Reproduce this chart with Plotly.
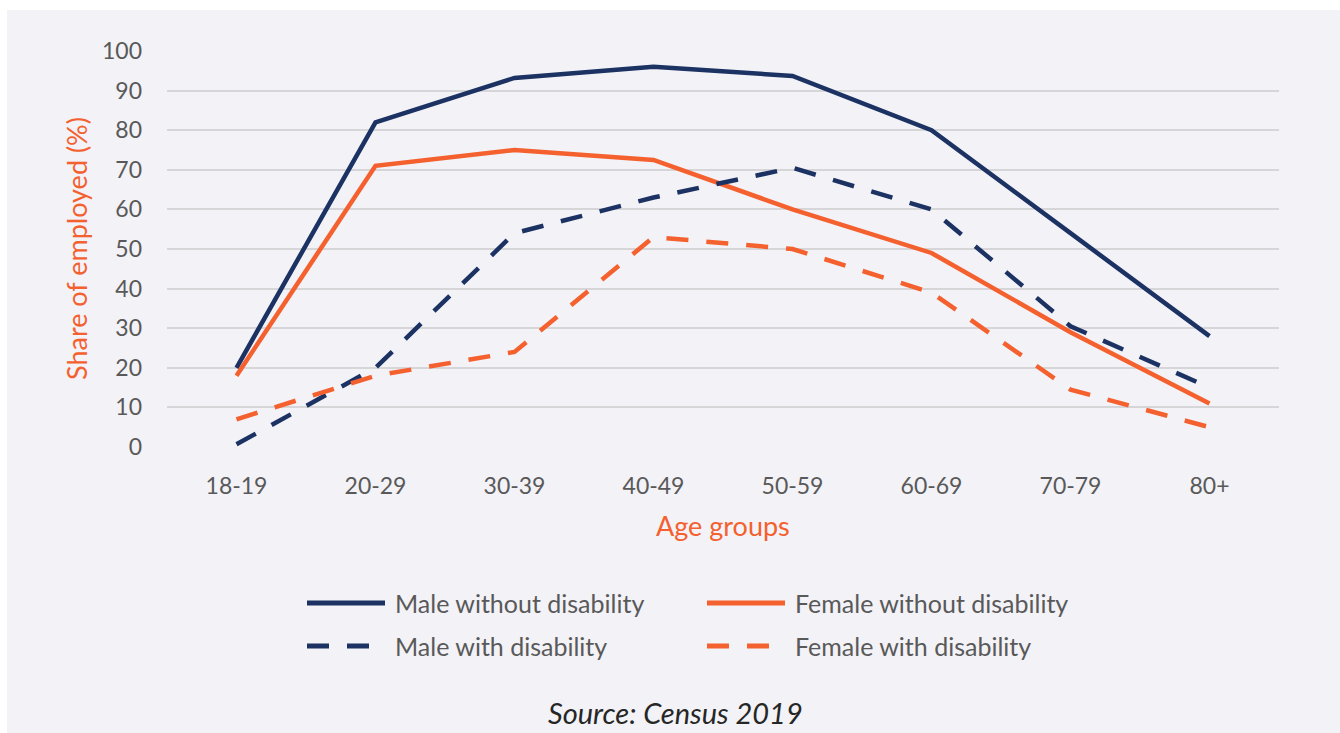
import plotly.graph_objects as go

# Employment share by age group, census 2019
age_groups = ["18-19", "20-29", "30-39", "40-49", "50-59", "60-69", "70-79", "80+"]
male_without = [20, 82, 93.2, 96, 93.7, 80, 54, 28]
female_without = [18, 71, 75, 72.5, 60, 49, 29, 11]
male_with = [0.7, 20, 54, 63, 70.5, 60, 30.5, 15]
female_with = [7, 18, 24, 53, 50, 39, 14.5, 5]
y_ticks = [0, 10, 20, 30, 40, 50, 60, 70, 80, 90, 100]

NAVY = "#1b3263"
ORANGE = "#f4602e"
BG = "#f2f2f7"
TEXT = "#595959"
FONT = "Lato, 'Open Sans', sans-serif"
DASH = "22px,18px"
LW = 4.5

series = [
    ("Male without disability", male_without, NAVY, "solid"),
    ("Female without disability", female_without, ORANGE, "solid"),
    ("Male with disability", male_with, NAVY, DASH),
    ("Female with disability", female_with, ORANGE, DASH),
]

W, H = 1340, 733
L, R, T, B = 167, 61, 51, 286
PW, PH = W - L - R, H - T - B


def px_x(x):
    return (x - L) / PW


def px_y(y):
    return (H - B - y) / PH


fig = go.Figure()
for name, vals, color, dash in series:
    fig.add_trace(go.Scatter(
        x=age_groups, y=vals, mode="lines", name=name,
        line=dict(color=color, width=LW, dash=dash),
        showlegend=False, hoverinfo="x+y+name",
    ))

shapes = [
    # white frame strips along the left and top edges
    dict(type="rect", xref="paper", yref="paper", x0=px_x(-5), x1=px_x(7),
         y0=px_y(H + 5), y1=px_y(-5), fillcolor="white", line_width=0, layer="below"),
    dict(type="rect", xref="paper", yref="paper", x0=px_x(-5), x1=px_x(W + 5),
         y0=px_y(10), y1=px_y(-5), fillcolor="white", line_width=0, layer="below"),
]

annotations = [
    dict(text="Age groups", xref="paper", yref="paper", x=0.5, y=px_y(525),
         showarrow=False, font=dict(family=FONT, size=27, color=ORANGE),
         xanchor="center", yanchor="middle"),
    dict(text="Share of employed (%)", xref="paper", yref="paper", x=px_x(76),
         y=px_y(249), textangle=-90, showarrow=False,
         font=dict(family=FONT, size=27, color=ORANGE),
         xanchor="center", yanchor="middle"),
    dict(text="<i>Source: Census 2019</i>", xref="paper", yref="paper",
         x=px_x(675), y=px_y(712), showarrow=False,
         font=dict(family=FONT, size=29, color="#262626"),
         xanchor="center", yanchor="middle"),
]

# legend laid out as two columns, two rows
legend_pos = [(307, 603), (707, 603), (307, 646), (707, 646)]
for (name, vals, color, dash), (lx, ly) in zip(series, legend_pos):
    shapes.append(dict(type="line", xref="paper", yref="paper",
                       x0=px_x(lx), x1=px_x(lx + 78), y0=px_y(ly), y1=px_y(ly),
                       line=dict(color=color, width=LW + 0.5, dash=dash)))
    annotations.append(dict(text=name, xref="paper", yref="paper",
                            x=px_x(lx + 86), y=px_y(ly), showarrow=False,
                            font=dict(family=FONT, size=25, color=TEXT),
                            xanchor="left", yanchor="middle"))

fig.update_layout(
    width=W, height=H,
    margin=dict(l=L, r=R, t=T, b=B, pad=0),
    paper_bgcolor=BG, plot_bgcolor=BG,
    font=dict(family=FONT, size=23, color=TEXT),
    shapes=shapes, annotations=annotations,
    xaxis=dict(
        type="category", range=[-0.5, len(age_groups) - 0.5],
        showgrid=False, zeroline=False, showline=False, ticks="",
        ticklabelstandoff=23,
        tickfont=dict(family=FONT, size=23, color=TEXT),
    ),
    yaxis=dict(
        range=[0, 100], tickvals=y_ticks, showgrid=True,
        gridcolor="#d6d6d9", gridwidth=2, zeroline=False, showline=False,
        ticks="", ticklabelstandoff=24,
        tickfont=dict(family=FONT, size=23, color=TEXT),
    ),
)

fig.write_html("out.html")
